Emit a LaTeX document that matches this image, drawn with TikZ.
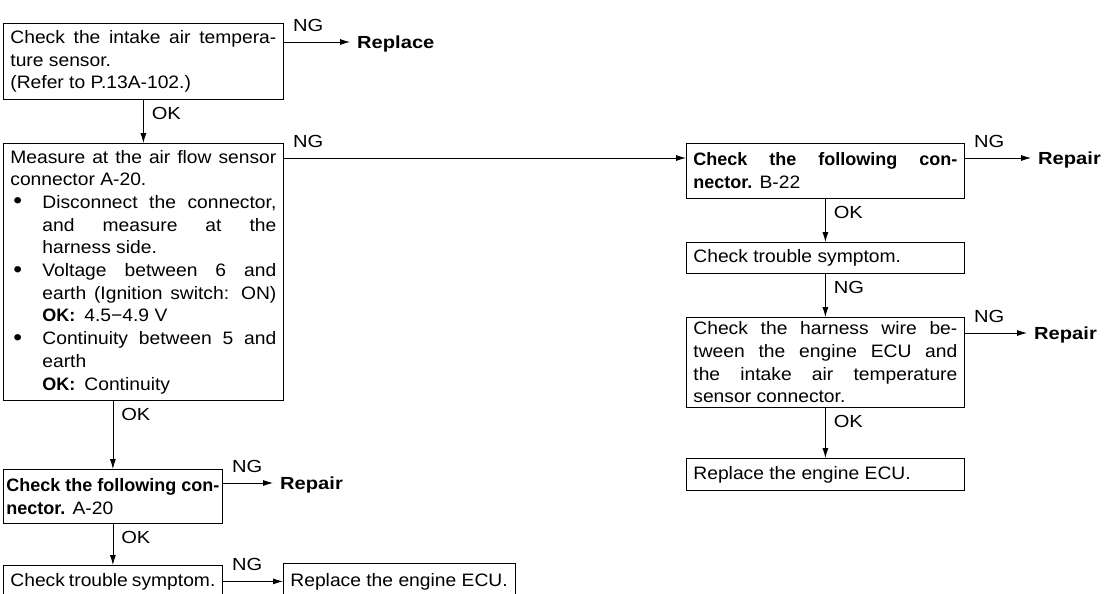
\documentclass[tikz,border=0pt]{standalone}
\usepackage{fontspec}
\usepackage{graphicx}
\setmainfont{Liberation Sans}[FakeStretch=1.07, BoldFeatures={FakeStretch=1.0}]
\newfontfamily\labfont{Liberation Sans}[FakeStretch=1.15]
\usetikzlibrary{arrows.meta,calc}
\tolerance=10000 \hbadness=10000 \hfuzz=20pt \hyphenpenalty=10000
\newcommand{\bul}{\noindent\hangindent=32pt\hangafter=1\makebox[32pt][l]{\hspace{3pt}\raisebox{-0.5pt}{\scalebox{1.3}{•}}}}
\tikzset{
  box/.style={draw, line width=0.8pt, anchor=north west, inner ysep=0pt, inner xsep=7pt,
    font=\fontsize{18}{22.7}\selectfont},
  arr/.style={line width=0.8pt, -{Latex[length=10pt,width=6pt]}},
  lab/.style={font=\labfont\fontsize{17.5}{20}\selectfont, inner sep=0pt},
  nglab/.style={lab, at start, anchor=south west, xshift=9pt, yshift=10pt},
  oklab/.style={lab, at start, anchor=north west, xshift=8pt, yshift=-7pt},
  res/.style={font=\labfont\bfseries\fontsize{17.5}{20}\selectfont, inner sep=0pt, anchor=west,
    text height=12.5pt, text depth=0pt},
}
\begin{document}
\begin{tikzpicture}[x=1pt,y=-1pt]
\useasboundingbox (0,0) rectangle (1106,594);
\begin{scope}
\clip (0,0) rectangle (1106,594);
% left column
\node[box, minimum height=76pt] (box1) at (3,23)
  {\parbox{266pt}{Check the intake air tempera-\linebreak ture sensor.\\ (Refer to P.13A-102.)}};
\node[box, minimum height=257pt] (box2) at (3,143)
  {\parbox{266pt}{Measure at the air flow sensor\linebreak connector A-20.\par
   \bul Disconnect the connector,\linebreak and measure at the\linebreak harness side.\par
   \bul Voltage between 6 and\linebreak earth (Ignition switch: ON)\linebreak \textbf{OK:}\enspace 4.5−4.9 V\par
   \bul Continuity between 5 and\linebreak earth\\ \textbf{OK:}\enspace Continuity}};
\node[box, inner xsep=3pt, minimum height=54pt] (box3) at (3,469)
  {\parbox{213pt}{\textbf{Check the following con-\linebreak nector.} A-20}};
\node[box, minimum height=32pt] (box4) at (3,565)
  {\parbox{205pt}{Check trouble symptom.}};
\node[box, minimum height=36pt] (box5) at (283,563)
  {\parbox{218pt}{Replace the engine ECU.}};
% right column
\node[box, minimum height=55pt] (b22) at (686,143)
  {\parbox{264pt}{\textbf{Check the following con-\linebreak nector.} B-22}};
\node[box, minimum height=31pt] (r2) at (686,242)
  {\parbox{264pt}{Check trouble symptom.}};
\node[box, minimum height=90pt] (r3) at (686,317)
  {\parbox{264pt}{Check the harness wire be-\linebreak tween the engine ECU and\linebreak the intake air temperature\linebreak sensor connector.}};
\node[box, minimum height=32pt] (r4) at (686,458)
  {\parbox{264pt}{Replace the engine ECU.}};
% results
\node[res] (rep1) at (357,42) {Replace};
\node[res] (rep3) at (280,483) {Repair};
\node[res] (rep22) at (1038,158) {Repair};
\node[res] (rep33) at (1034,333) {Repair};
\coordinate (c22) at ([yshift=-15pt]b22.north west);
% connectors
\draw[arr] (rep1 -| box1.east) -- node[nglab]{NG} ([xshift=-7pt]rep1.west);
\draw[arr] (box1.south) -- node[oklab]{OK} (box2.north);
\draw[arr] (c22 -| box2.east) -- node[nglab]{NG} (c22);
\draw[arr] (box3.north |- box2.south) -- node[oklab]{OK} (box3.north);
\draw[arr] (rep3 -| box3.east) -- node[nglab]{NG} ([xshift=-7pt]rep3.west);
\draw[arr] (box3.south) -- node[oklab]{OK} (box4.north);
\draw[arr] (box4.east) -- node[nglab]{NG} (box5.west);
\draw[arr] (rep22 -| b22.east) -- node[nglab]{NG} ([xshift=-7pt]rep22.west);
\draw[arr] (b22.south) -- node[oklab]{OK} (r2.north);
\draw[arr] (r2.south) -- node[oklab]{NG} (r3.north);
\draw[arr] (rep33 -| r3.east) -- node[nglab]{NG} ([xshift=-7pt]rep33.west);
\draw[arr] (r3.south) -- node[oklab]{OK} (r4.north);
\end{scope}
\end{tikzpicture}
\end{document}
